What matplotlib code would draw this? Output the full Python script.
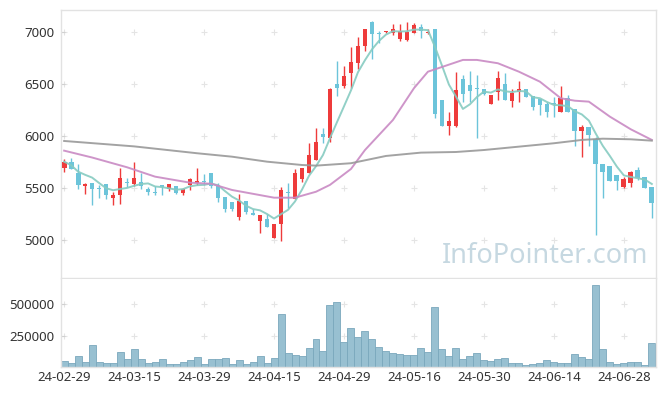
import numpy as np
import pandas as pd
import matplotlib
matplotlib.use('Agg')
import matplotlib.pyplot as plt

plt.rcParams['font.family'] = ['Noto Sans', 'DejaVu Sans']

# ----------------------------------------
# Data
# ----------------------------------------
dates = (['24-02-29']
         + ['24-03-%02d' % d for d in [4, 5, 6, 7, 8, 11, 12, 13, 14, 15, 18, 19, 20, 21, 22, 25, 26, 27, 28, 29]]
         + ['24-04-%02d' % d for d in [1, 2, 3, 4, 5, 8, 9, 11, 12, 15, 16, 17, 18, 19, 22, 23, 24, 25, 26, 29, 30]]
         + ['24-05-%02d' % d for d in [2, 3, 7, 8, 9, 10, 13, 14, 16, 17, 20, 21, 22, 23, 24, 27, 28, 29, 30, 31]]
         + ['24-06-%02d' % d for d in [3, 4, 5, 7, 10, 11, 12, 13, 14, 17, 18, 19, 20, 21, 24, 25, 26, 27, 28]]
         + ['24-07-%02d' % d for d in [1, 2, 3, 4]])

opens = [5695, 5750, 5644, 5516, 5548, 5500, 5539, 5407, 5436, 5548,
         5542, 5558, 5490, 5455, 5526, 5493, 5519, 5452, 5526, 5548,
         5560, 5641, 5522, 5414, 5365, 5224, 5372, 5263, 5183, 5202,
         5019, 5151, 5455, 5394, 5590, 5641, 5772, 6019, 5984, 6500,
         6484, 6603, 6705, 6868, 7096, 6990, 6997, 6990, 6933, 6926,
         6994, 7045, 6987, 7026, 6346, 6099, 6099, 6548, 6490, 6455,
         6449, 6311, 6420, 6500, 6340, 6423, 6449, 6388, 6356, 6305,
         6311, 6234, 6362, 6257, 6051, 6083, 5968, 5728, 5712, 5625,
         5513, 5551, 5673, 5603, 5506]
highs = [5776, 5786, 5731, 5545, 5548, 5532, 5542, 5462, 5689, 5596,
         5747, 5644, 5512, 5522, 5532, 5539, 5519, 5497, 5596, 5689,
         5632, 5648, 5545, 5414, 5365, 5442, 5372, 5298, 5240, 5247,
         5154, 5507, 5545, 5680, 5695, 5936, 6074, 6080, 6465, 6718,
         6670, 6859, 6949, 7029, 7106, 7010, 7013, 7074, 7080, 7093,
         7087, 7080, 7029, 7026, 6346, 6234, 6618, 6587, 6622, 6587,
         6452, 6394, 6622, 6606, 6449, 6529, 6449, 6388, 6356, 6330,
         6372, 6484, 6391, 6257, 6106, 6083, 5993, 5728, 5712, 5625,
         5606, 5664, 5705, 5609, 5506]
lows = [5651, 5680, 5493, 5440, 5334, 5407, 5397, 5334, 5343, 5507,
        5522, 5490, 5436, 5436, 5430, 5468, 5440, 5430, 5481, 5526,
        5532, 5500, 5368, 5266, 5282, 5189, 5253, 5237, 5064, 5122,
        5019, 4991, 5305, 5394, 5555, 5641, 5772, 5936, 5940, 6382,
        6465, 6465, 6641, 6817, 6738, 6897, 6990, 6971, 6917, 6917,
        6987, 6942, 6981, 6176, 6099, 6010, 6090, 6327, 6324, 5984,
        6398, 6311, 6346, 6346, 6276, 6327, 6378, 6247, 6202, 6186,
        6180, 6234, 6234, 5904, 5795, 5907, 5048, 5401, 5570, 5481,
        5497, 5513, 5577, 5497, 5209]
closes = [5753, 5686, 5532, 5536, 5493, 5493, 5436, 5434, 5596, 5544,
          5596, 5522, 5462, 5449, 5513, 5539, 5455, 5490, 5584, 5567,
          5555, 5519, 5407, 5301, 5301, 5372, 5269, 5244, 5240, 5125,
          5154, 5481, 5449, 5644, 5695, 5817, 5942, 5988, 6452, 6465,
          6577, 6709, 6862, 7029, 6984, 6984, 7013, 7026, 7013, 6997,
          7064, 7010, 7003, 6214, 6099, 6144, 6439, 6404, 6436, 6449,
          6401, 6394, 6558, 6346, 6413, 6449, 6378, 6276, 6298, 6234,
          6305, 6362, 6234, 6051, 6083, 6010, 5728, 5651, 5570, 5570,
          5587, 5651, 5593, 5503, 5359]
volumes = [48000, 32000, 86000, 38000, 175000, 38000, 32000, 32000, 118000, 62000,
           142000, 62000, 32000, 38000, 62000, 22000, 22000, 38000, 54000, 78000,
           22000, 62000, 62000, 70000, 22000, 54000, 22000, 38000, 86000, 30000,
           70000, 425000, 110000, 94000, 86000, 151000, 223000, 129000, 497000, 514000,
           199000, 312000, 239000, 288000, 223000, 159000, 129000, 110000, 102000, 94000,
           94000, 151000, 121000, 481000, 142000, 86000, 151000, 62000, 86000, 110000,
           54000, 46000, 62000, 70000, 30000, 30000, 14000, 22000, 30000, 54000,
           38000, 30000, 30000, 102000, 78000, 62000, 653000, 142000, 38000, 22000,
           30000, 38000, 38000, 14000, 191000]

# 20-day and long moving average lines, read at a few points
ma20_idx = [0, 4, 9, 13, 18, 21, 24, 30, 33, 36, 38, 41, 43, 47, 50, 52, 54, 57,
            59, 62, 65, 68, 71, 73, 75, 78, 81, 84]
ma20_val = [5859, 5793, 5699, 5609, 5551, 5541, 5481, 5407, 5407, 5464, 5530, 5683,
            5865, 6154, 6459, 6618, 6663, 6731, 6731, 6699, 6618, 6522, 6362, 6339,
            6330, 6186, 6064, 5962]
malong_idx = [0, 10, 19, 24, 29, 34, 36, 41, 46, 51, 56, 60, 66, 70, 74, 77, 81, 84]
malong_val = [5952, 5900, 5834, 5801, 5753, 5721, 5715, 5738, 5808, 5840, 5846,
              5865, 5904, 5930, 5962, 5974, 5968, 5955]

price_ticks = [5000, 5500, 6000, 6500, 7000]
vol_ticks = [250000, 500000]

# ----------------------------------------
# Styles
# ----------------------------------------
UP = '#ee3b3b'
DOWN = '#6cc4da'
GRID = '#e4e4e4'
TXT = '#333333'

df = pd.DataFrame({'open': opens, 'high': highs, 'low': lows, 'close': closes, 'vol': volumes})
x = np.arange(len(df))
ma5 = df['close'].rolling(5, min_periods=1).mean()
colors = [UP if c >= o else DOWN for o, c in zip(df['open'], df['close'])]

fig = plt.figure(figsize=(6.65, 3.96), dpi=100)
ax = fig.add_axes([0.0917, 0.298, 0.8948, 0.6768])
axv = fig.add_axes([0.0917, 0.0732, 0.8948, 0.2223], sharex=ax)

# candles
body_lo = np.minimum(df['open'], df['close'])
body_h = np.maximum(np.abs(df['close'] - df['open']), 10)
ax.vlines(x, df['low'], df['high'], colors=colors, linewidth=1.0, zorder=2)
ax.bar(x, body_h, bottom=body_lo, width=0.68, color=colors, linewidth=0, zorder=3)

# moving averages
ax.plot(x, ma5, color='#86cbc1', linewidth=1.4, alpha=0.9, zorder=4)
ax.plot(ma20_idx, ma20_val, color='#c98ac4', linewidth=1.4, alpha=0.9, zorder=4)
ax.plot(malong_idx, malong_val, color='#999999', linewidth=1.4, alpha=0.9, zorder=4)

# volume
axv.bar(x, df['vol'], width=1.0, color='#98c0d1', edgecolor='#7aa8bc', linewidth=0.6, zorder=2)

# axes cosmetics
xt = list(range(0, len(dates), 10))
ax.set_xlim(-0.45, 84.6)
ax.set_ylim(4635, 7211)
axv.set_ylim(0, 701000)

for a, yt in ((ax, price_ticks), (axv, vol_ticks)):
    gx, gy = np.meshgrid(xt, yt)
    a.plot(gx.ravel(), gy.ravel(), linestyle='none', marker='+', markersize=4.5,
           color=GRID, markeredgewidth=0.8, zorder=1)
    for s in a.spines.values():
        s.set_color('#e2e2e2')
        s.set_linewidth(1.0)
    a.set_yticks(yt)
    a.tick_params(axis='y', direction='in', length=3, color='#d0d0d0',
                  labelsize=9.5, labelcolor=TXT, pad=5)
axv.spines['top'].set_visible(False)

ax.tick_params(axis='x', length=0, labelbottom=False)
axv.set_xticks(xt)
axv.set_xticklabels([dates[i] for i in xt])
axv.tick_params(axis='x', length=0, labelsize=9.5, labelcolor=TXT, pad=3)
axv.set_yticklabels([str(v) for v in vol_ticks])

ax.text(0.9866, 0.082, 'InfoPointer.com', transform=ax.transAxes, ha='right', va='center',
        fontsize=19.5, color='#c6d8e1', zorder=0)

fig.savefig('out.png', dpi=100)
